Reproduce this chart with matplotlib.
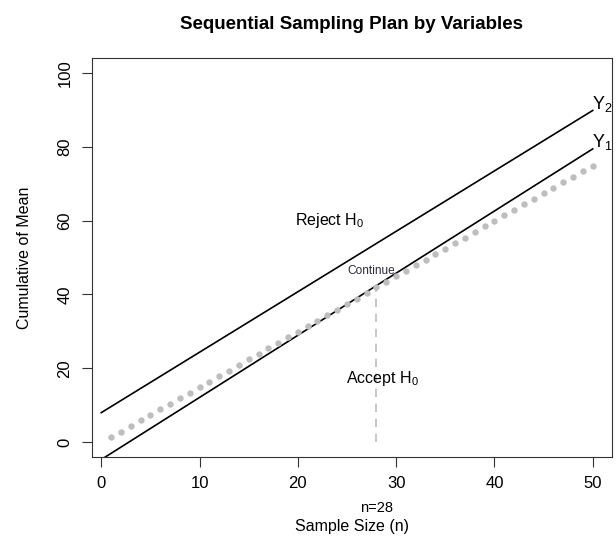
import matplotlib
matplotlib.use("Agg")
import matplotlib.pyplot as plt
import matplotlib.transforms as mtransforms

plt.rcParams['font.family'] = ['Liberation Sans', 'DejaVu Sans']
plt.rcParams['mathtext.fontset'] = 'custom'
plt.rcParams['mathtext.rm'] = 'Liberation Sans'
plt.rcParams['mathtext.it'] = 'Liberation Sans:italic'

# data
sample_n = list(range(1, 51))
cum_mean = [1.4, 2.9, 4.4, 5.9, 7.4, 8.9, 10.4, 11.9, 13.4, 14.9,
            16.4, 17.9, 19.4, 20.9, 22.4, 23.9, 25.4, 26.9, 28.4, 29.9,
            31.4, 32.9, 34.4, 35.9, 37.4, 38.9, 40.4, 41.9, 43.4, 44.9,
            46.4, 47.9, 49.4, 50.9, 52.4, 53.9, 55.4, 56.9, 58.4, 59.9,
            61.4, 62.9, 64.4, 65.9, 67.4, 68.9, 70.4, 71.9, 73.4, 74.9]
line_n = [0, 50]
y1_limit = [-4.7, 79.4]   # acceptance line
y2_limit = [8.0, 89.8]    # rejection line
stop_n = 28
stop_value = 42

fig = plt.figure(figsize=(6.16, 5.4), dpi=100)
ax = fig.add_axes([0.149, 0.1537, 0.8445, 0.7389])

ax.plot(line_n, y2_limit, color="black", lw=1.2)
ax.plot(line_n, y1_limit, color="black", lw=1.2)
ax.plot(sample_n, cum_mean, linestyle="none", marker="o", markersize=4.6,
        color="#BEBEBE", markeredgewidth=0)
ax.plot([stop_n, stop_n], [0, stop_value], color="#BEBEBE", lw=1.2,
        dashes=(5, 4))

ax.set_xlim(1 - 0.04 * 49, 50 + 0.04 * 49)
ax.set_ylim(-4, 104)
ax.set_xticks([0, 10, 20, 30, 40, 50])
ax.set_yticks([0, 20, 40, 60, 80, 100])
ax.tick_params(axis="both", length=7, width=0.8, labelsize=12, color="#333333")
ax.tick_params(axis="x", pad=7)
ax.tick_params(axis="y", pad=7)
for lab in ax.get_yticklabels():
    lab.set_rotation(90)
    lab.set_va("center")
for sp in ax.spines.values():
    sp.set_linewidth(0.8)
    sp.set_color("#333333")

ax.set_xlabel("Sample Size (n)", fontsize=11.5, labelpad=20)
ax.set_ylabel("Cumulative of Mean", fontsize=11.5, labelpad=18)
ax.set_title("Sequential Sampling Plan by Variables", fontsize=13.5,
             fontweight="bold", pad=21)

ax.text(23.2, 60, "Reject H$_0$", fontsize=11.5, ha="center", va="center")
ax.text(28.6, 17.3, "Accept H$_0$", fontsize=11.5, ha="center", va="center")
ax.text(27.5, 46.4, "Continue", fontsize=8.6, ha="center", va="center",
        color="#2b2b3b")
ax.text(49.9, 91.5, "Y$_2$", fontsize=13, ha="left", va="center")
ax.text(49.9, 81.3, "Y$_1$", fontsize=13, ha="left", va="center")

trans = mtransforms.blended_transform_factory(ax.transData, ax.transAxes)
ax.text(stop_n, -0.128, "n=%d" % stop_n, fontsize=10.5, ha="center",
        va="center", transform=trans)

fig.savefig("out.png", dpi=100)
